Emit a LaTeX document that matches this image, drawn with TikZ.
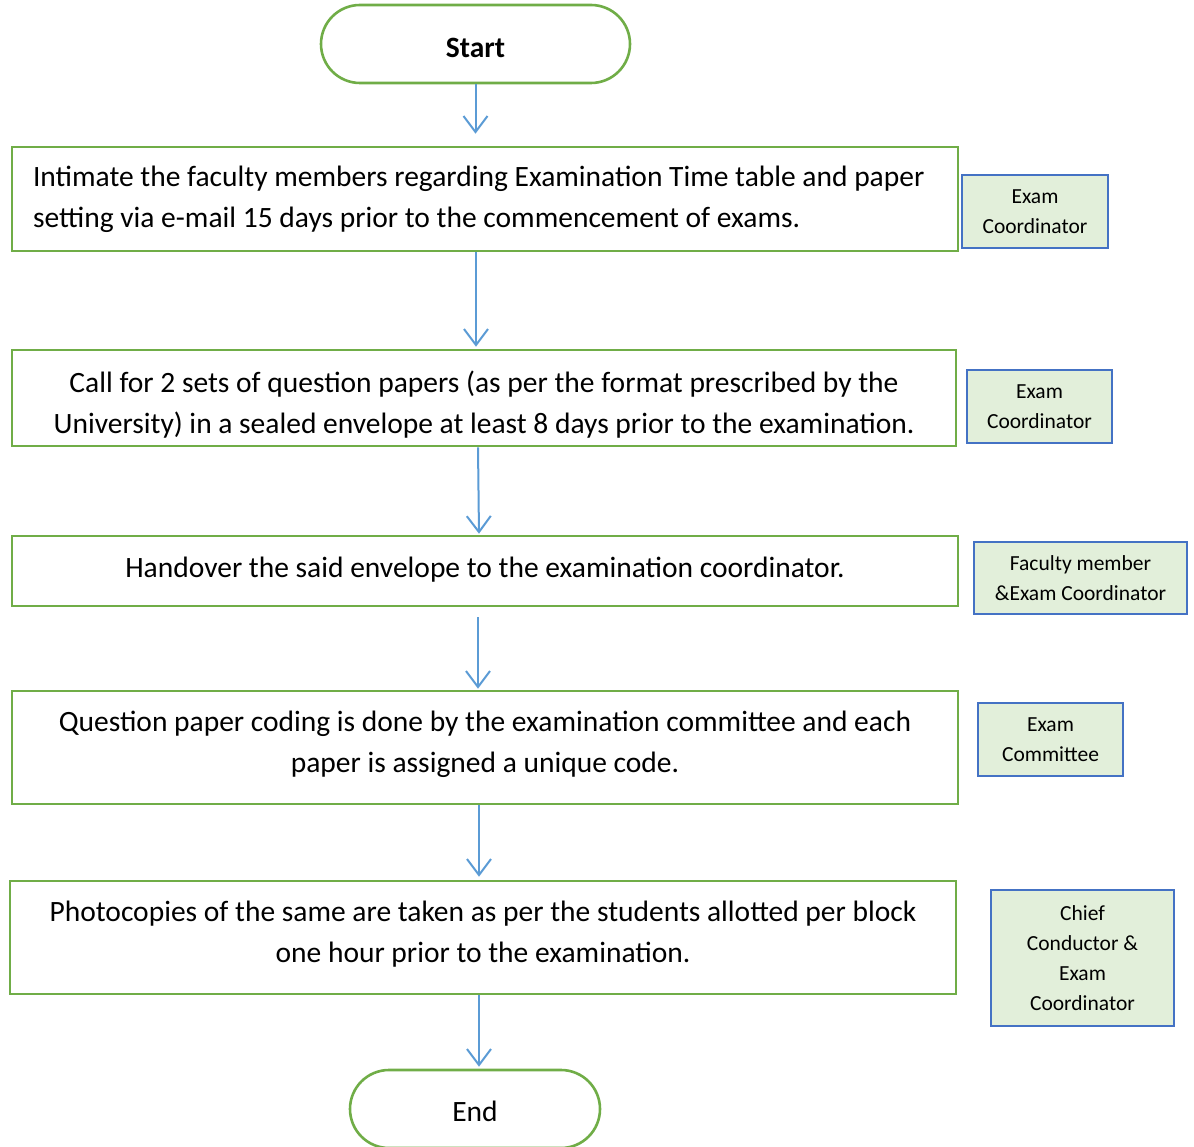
\documentclass[tikz,border=0pt]{standalone}
\usepackage{fontspec}
\setmainfont{Carlito}
\usetikzlibrary{arrows.meta}
\definecolor{flgreen}{HTML}{70AD47}
\definecolor{flblue}{HTML}{5B9BD5}
\definecolor{sidefill}{HTML}{E2EFDA}
\definecolor{sideborder}{HTML}{4472C4}
\begin{document}
\begin{tikzpicture}[x=1pt,y=-1pt,
  terminal/.style={draw=flgreen, line width=2.6pt, rounded corners=39pt, fill=white,
     minimum height=78pt, inner sep=0pt, font=\fontsize{29.5}{41}\selectfont},
  stepbox/.style={draw=flgreen, line width=2.6pt, fill=white, inner sep=0pt,
     minimum width=946pt, align=center, font=\fontsize{29.5}{41}\selectfont},
  sidebox/.style={draw=sideborder, line width=1.2pt, fill=sidefill, inner sep=0pt,
     align=center, font=\fontsize{21.5}{30}\selectfont},
  arr/.style={draw=flblue, line width=2pt, -{Straight Barb[length=16pt,width=24pt,line width=2pt]}}]
\useasboundingbox (0,0) rectangle (1194,1147);
\clip (0,0) rectangle (1194,1147);

\node[terminal, minimum width=309pt, font=\fontsize{29.5}{41}\selectfont\bfseries] (start) at (475.5,44) {\rule{0pt}{27pt}Start};

\node[stepbox, minimum height=104pt, text width=904pt, align=flush left] (b1) at (485,199)
  {Intimate the faculty members regarding Examination Time table and paper\\
   setting via e-mail 15 days prior to the commencement of exams.};
\node[stepbox, minimum width=944pt, minimum height=96pt] (b2) at (484,398)
  {\rule{0pt}{34pt}Call for 2 sets of question papers (as per the format prescribed by the\\
   University) in a sealed envelope at least 8 days prior to the examination.};
\node[stepbox, minimum height=70pt] (b3) at (485,571)
  {\raisebox{7pt}{Handover the said envelope to the examination coordinator.}};
\node[stepbox, minimum height=113pt] (b4) at (485,747.5)
  {Question paper coding is done by the examination committee and each\\
   paper is assigned a unique code.\rule[-11pt]{0pt}{1pt}};
\node[stepbox, minimum height=113pt] (b5) at (483,937.5)
  {Photocopies of the same are taken as per the students allotted per block\\
   one hour prior to the examination.\rule[-12pt]{0pt}{1pt}};

\node[terminal, minimum width=250pt] (end) at (475,1109) {\rule{0pt}{25pt}End};

\node[sidebox, minimum width=146pt, minimum height=73pt] (s1) at (1035,211.5) {Exam\\Coordinator};
\node[sidebox, minimum width=145pt, minimum height=73pt] (s2) at (1039.5,406.5) {Exam\\Coordinator};
\node[sidebox, minimum width=213pt, minimum height=72pt] (s3) at (1080.5,578) {Faculty member\\\&Exam Coordinator};
\node[sidebox, minimum width=145pt, minimum height=73pt] (s4) at (1050.5,739.5) {Exam\\Committee};
\node[sidebox, minimum width=183pt, minimum height=136pt] (s5) at (1082.5,958) {Chief\\Conductor \&\\Exam\\Coordinator};

\draw[arr, shorten >=12pt] (start.south) -- (start.south |- b1.north);
\draw[arr, shorten >=2pt] ([xshift=-9pt]b1.south) -- ([xshift=-8pt]b2.north);
\draw[arr, shorten >=1pt] ([xshift=-6pt]b2.south) -- ([xshift=-6pt]b3.north);
\draw[arr, shorten <=10pt, shorten >=1pt] ([xshift=-7pt]b3.south) -- ([xshift=-7pt]b4.north);
\draw[arr, shorten >=3pt] ([xshift=-6pt]b4.south) -- ([xshift=-6pt]b4.south |- b5.north);
\draw[arr, shorten >=2pt] ([xshift=-4pt]b5.south) -- ([xshift=-4pt]b5.south |- end.north);
\end{tikzpicture}
\end{document}
